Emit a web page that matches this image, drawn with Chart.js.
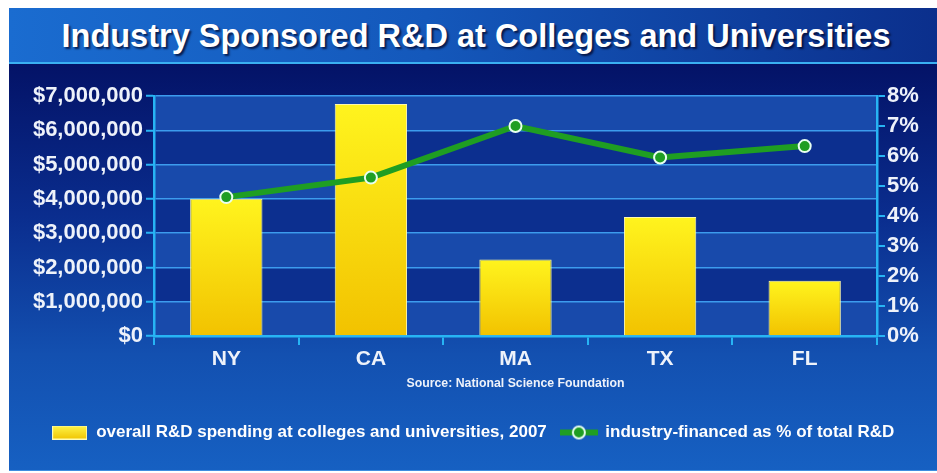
<!DOCTYPE html>
<html>
<head>
<meta charset="utf-8">
<script src="https://cdn.jsdelivr.net/npm/chart.js@4/dist/chart.umd.min.js"></script>
<style>
  html, body { margin: 0; padding: 0; background: #fff; }
  body { width: 937px; height: 473px; position: relative; overflow: hidden; font-family: "Liberation Sans", Arial, sans-serif; }
  #slide {
    position: absolute; left: 9px; top: 8px; width: 928px; height: 462px;
    border-bottom: 1px solid #3c8ee0;
    background: linear-gradient(180deg, #020b5c 0%, #041469 14%, #0a2d8e 45%, #1350b0 75%, #1660c2 100%);
  }
  #head {
    height: 54px; border-bottom: 2px solid #3ab0f2;
    background: linear-gradient(90deg, #1a6cd0 0%, #1458bb 45%, #0b2f8c 100%);
    display: flex; align-items: center; justify-content: center;
  }
  #head h1 {
    margin: 0; padding: 3px 0 0 6px; color: #fff; font-size: 32.5px; font-weight: bold; letter-spacing: 0;
    text-shadow: 2px 2px 2px rgba(0, 0, 30, 0.7);
  }
  #chart { position: absolute; left: 0; top: 56px; }
</style>
</head>
<body>
<div id="slide">
  <div id="head"><h1>Industry Sponsored R&amp;D at Colleges and Universities</h1></div>
  <canvas id="chart" width="928" height="406"></canvas>
</div>
<script>
// estados y valores
const states = ['NY', 'CA', 'MA', 'TX', 'FL']
const spending = [4000000, 6770000, 2230000, 3470000, 1610000]
const industryShare = [4.63, 5.28, 7.0, 5.95, 6.33]
const spendingLabel = 'overall R&D spending at colleges and universities, 2007'
const shareLabel = 'industry-financed as % of total R&D'
const sourceText = 'Source: National Science Foundation'

const cyan = '#27b4f4'
const gridBlue = '#3c9cee'
const textColor = '#eef2fa'

// muestras para la leyenda
function barSwatch() {
  const c = document.createElement('canvas')
  c.width = 35; c.height = 14
  const g = c.getContext('2d')
  const grad = g.createLinearGradient(0, 0, 0, 14)
  grad.addColorStop(0, '#fff64a'); grad.addColorStop(1, '#f0c400')
  g.fillStyle = grad
  g.fillRect(0, 0, 35, 14)
  g.strokeStyle = '#fffbb0'; g.lineWidth = 1
  g.strokeRect(0.5, 0.5, 34, 13)
  return c
}

function lineSwatch() {
  const c = document.createElement('canvas')
  c.width = 38; c.height = 16
  const g = c.getContext('2d')
  g.strokeStyle = '#1f9e22'; g.lineWidth = 6
  g.beginPath(); g.moveTo(0, 8); g.lineTo(38, 8); g.stroke()
  g.fillStyle = '#1f9e22'; g.strokeStyle = '#e8fff0'; g.lineWidth = 2
  g.beginPath(); g.arc(19, 8, 6, 0, Math.PI * 2); g.fill(); g.stroke()
  return c
}

// franjas alternas del área del gráfico
const bands = {
  id: 'bands',
  beforeDraw(chart) {
    const { ctx, chartArea, scales: { y } } = chart
    const ticks = y.ticks.map(t => t.value)
    ctx.save()
    for (let i = 0; i < ticks.length - 1; i++) {
      const top = y.getPixelForValue(ticks[i + 1])
      const bottom = y.getPixelForValue(ticks[i])
      ctx.fillStyle = i % 2 === 0 ? '#184aab' : '#0c2f8f'
      ctx.fillRect(chartArea.left, top, chartArea.right - chartArea.left, bottom - top)
    }
    ctx.restore()
  }
}

// degradado amarillo de cada barra
function barGradient(context) {
  const chart = context.chart
  const { chartArea } = chart
  if (!chartArea || context.raw === undefined) return '#f8dc10'
  const top = chart.scales.y.getPixelForValue(context.raw)
  const grad = chart.ctx.createLinearGradient(0, top, 0, chartArea.bottom)
  grad.addColorStop(0, '#fff41e')
  grad.addColorStop(1, '#f2c200')
  return grad
}

const ctx = document.getElementById('chart')

new Chart(ctx, {
  data: {
    labels: states,
    datasets: [{
      type: 'bar',
      label: spendingLabel,
      data: spending,
      yAxisID: 'y',
      backgroundColor: barGradient,
      borderColor: '#fff9a8',
      borderWidth: 1,
      barPercentage: 0.5,
      categoryPercentage: 1,
      order: 2
    }, {
      type: 'line',
      label: shareLabel,
      data: industryShare,
      yAxisID: 'y1',
      borderColor: '#1f9e22',
      borderWidth: 6,
      pointRadius: 6,
      pointBackgroundColor: '#1f9e22',
      pointBorderColor: '#e8fff0',
      pointBorderWidth: 2,
      tension: 0,
      order: 1
    }]
  },
  options: {
    responsive: false,
    animation: false,
    layout: { padding: { top: 32, bottom: 19 } },
    plugins: {
      tooltip: { enabled: false },
      legend: {
        position: 'bottom',
        labels: {
          usePointStyle: true,
          pointStyleWidth: 36,
          boxHeight: 15,
          padding: 14,
          color: '#ffffff',
          font: { family: 'Liberation Sans', size: 17, weight: 'bold' },
          generateLabels: () => [
            { text: spendingLabel, pointStyle: barSwatch(), fontColor: '#ffffff', lineWidth: 0, datasetIndex: 0 },
            { text: shareLabel, pointStyle: lineSwatch(), fontColor: '#ffffff', lineWidth: 0, datasetIndex: 1 }
          ]
        }
      }
    },
    scales: {
      x: {
        grid: { display: true, drawOnChartArea: false, offset: true, color: cyan, lineWidth: 2, tickLength: 9 },
        border: { color: cyan, width: 2.5 },
        ticks: { color: textColor, padding: 2, font: { family: 'Liberation Sans', size: 21, weight: 'bold' } },
        title: {
          display: true, text: sourceText, color: textColor,
          padding: { top: 2, bottom: 19 },
          font: { family: 'Liberation Sans', size: 12.3, weight: 'bold' }
        }
      },
      y: {
        position: 'left',
        min: 0, max: 7000000,
        ticks: {
          stepSize: 1000000, color: textColor, padding: 3,
          font: { family: 'Liberation Sans', size: 22, weight: 'bold' },
          callback: v => '$' + v.toLocaleString('en-US')
        },
        grid: { color: gridBlue, lineWidth: 1.5, tickColor: cyan, tickWidth: 2, tickLength: 8 },
        border: { color: cyan, width: 2.5 },
        afterFit: scale => { scale.width = 145 }
      },
      y1: {
        position: 'right',
        min: 0, max: 8,
        ticks: {
          stepSize: 1, color: textColor, padding: 2,
          font: { family: 'Liberation Sans', size: 22, weight: 'bold' },
          callback: v => v + '%'
        },
        grid: { drawOnChartArea: false, color: cyan, lineWidth: 2, tickLength: 8 },
        border: { color: cyan, width: 2.5 },
        afterFit: scale => { scale.width = 60 }
      }
    }
  },
  plugins: [bands]
})
</script>
</body>
</html>
